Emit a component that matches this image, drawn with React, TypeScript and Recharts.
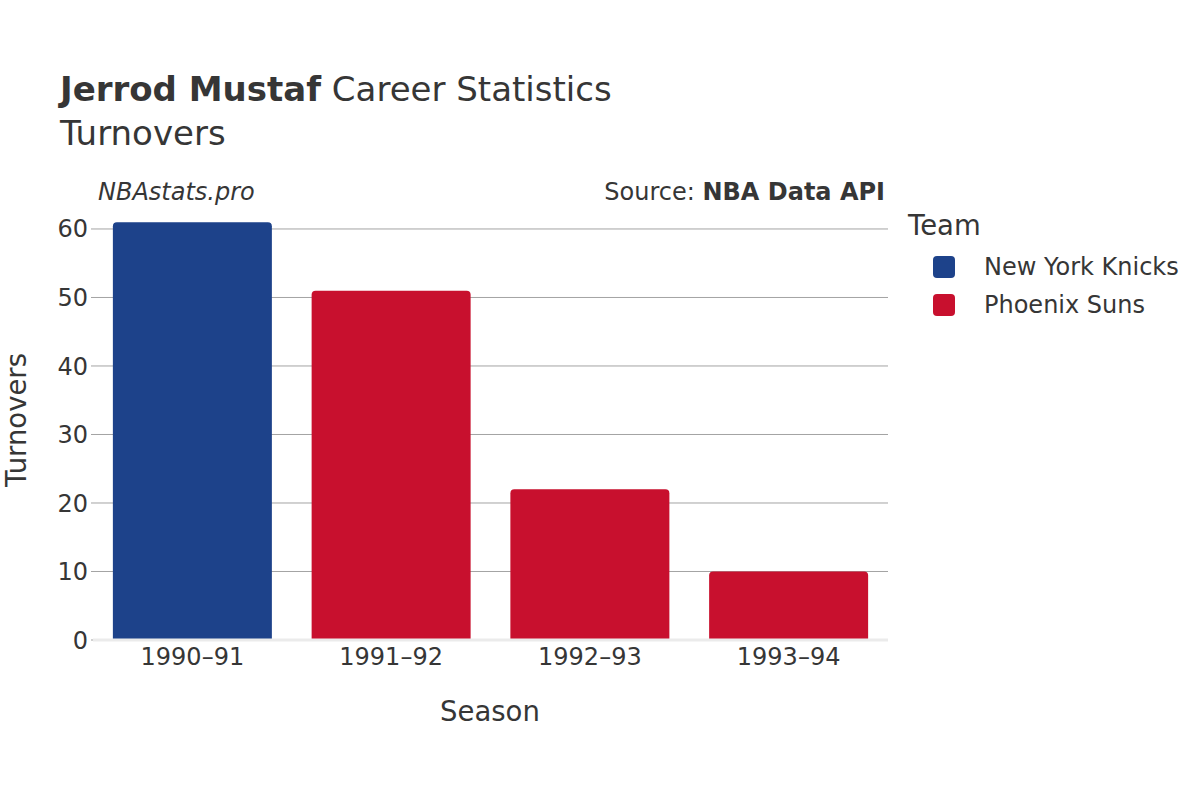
import { Bar, BarChart, CartesianGrid, Cell, XAxis, YAxis } from "recharts";

const seasons = ["1990–91", "1991–92", "1992–93", "1993–94"];
const teams = ["New York Knicks", "Phoenix Suns", "Phoenix Suns", "Phoenix Suns"];
const turnovers = [61, 51, 22, 10];
const yTicks = [0, 10, 20, 30, 40, 50, 60];

const teamColors: Record<string, string> = {
  "New York Knicks": "#1D428A",
  "Phoenix Suns": "#C8102E",
};
const legendTeams = ["New York Knicks", "Phoenix Suns"];

const data = seasons.map((season, i) => ({ season, team: teams[i], value: turnovers[i] }));

const font = "'DejaVu Sans', sans-serif";
const ink = "#363636";

const abs = (style: React.CSSProperties): React.CSSProperties => ({
  position: "absolute",
  whiteSpace: "nowrap",
  fontFamily: font,
  color: ink,
  lineHeight: 1,
  ...style,
});

export default function App() {
  return (
    <div style={{ position: "absolute", left: 0, top: 0, width: 1200, height: 800, background: "#fff" }}>
      <BarChart
        width={1200}
        height={800}
        data={data}
        margin={{ top: 205, right: 312, left: 0, bottom: 130 }}
        barCategoryGap="10%"
      >
        <CartesianGrid vertical={false} horizontalValues={yTicks.slice(1)} stroke="#a3a3a3" strokeWidth={1} />
        <YAxis
          width={93}
          domain={[0, 63.5]}
          ticks={yTicks}
          axisLine={false}
          tickLine={{ stroke: "#a3a3a3" }}
          tickSize={2}
          tickMargin={3}
          tick={{ fill: ink, fontSize: 24, fontFamily: font }}
        />
        <Bar dataKey="value" isAnimationActive={false} radius={[4, 4, 0, 0]}>
          {data.map((d, i) => (
            <Cell key={i} fill={teamColors[d.team]} />
          ))}
        </Bar>
        <XAxis
          dataKey="season"
          height={30}
          axisLine={{ stroke: "#ebebeb", strokeWidth: 3 }}
          tickLine={false}
          tickSize={0}
          tickMargin={8}
          tick={{ fill: ink, fontSize: 24, fontFamily: font }}
        />
      </BarChart>

      <div style={abs({ left: 60, top: 72, fontSize: 34 })}>
        <b>Jerrod Mustaf</b> Career Statistics
      </div>
      <div style={abs({ left: 60, top: 116, fontSize: 34 })}>Turnovers</div>

      <div style={abs({ left: 98, top: 180, fontSize: 24, fontStyle: "italic" })}>NBAstats.pro</div>
      <div style={abs({ right: 1200 - 885, top: 180, fontSize: 24 })}>
        Source: <b>NBA Data API</b>
      </div>

      <div style={abs({ left: 440, top: 698, fontSize: 27.5 })}>Season</div>
      <div
        style={abs({
          left: 17,
          top: 420,
          fontSize: 27.5,
          transform: "translate(-50%, -50%) rotate(-90deg)",
        })}
      >
        Turnovers
      </div>

      <div style={abs({ left: 908, top: 212, fontSize: 27.5 })}>Team</div>
      {legendTeams.map((t, i) => (
        <div key={t} style={abs({ left: 933, top: 255 + i * 38, display: "flex", alignItems: "center" })}>
          <span
            style={{
              display: "inline-block",
              width: 22,
              height: 22,
              borderRadius: 4,
              background: teamColors[t],
              marginRight: 29,
            }}
          />
          <span style={{ fontSize: 24 }}>{t}</span>
        </div>
      ))}
    </div>
  );
}
